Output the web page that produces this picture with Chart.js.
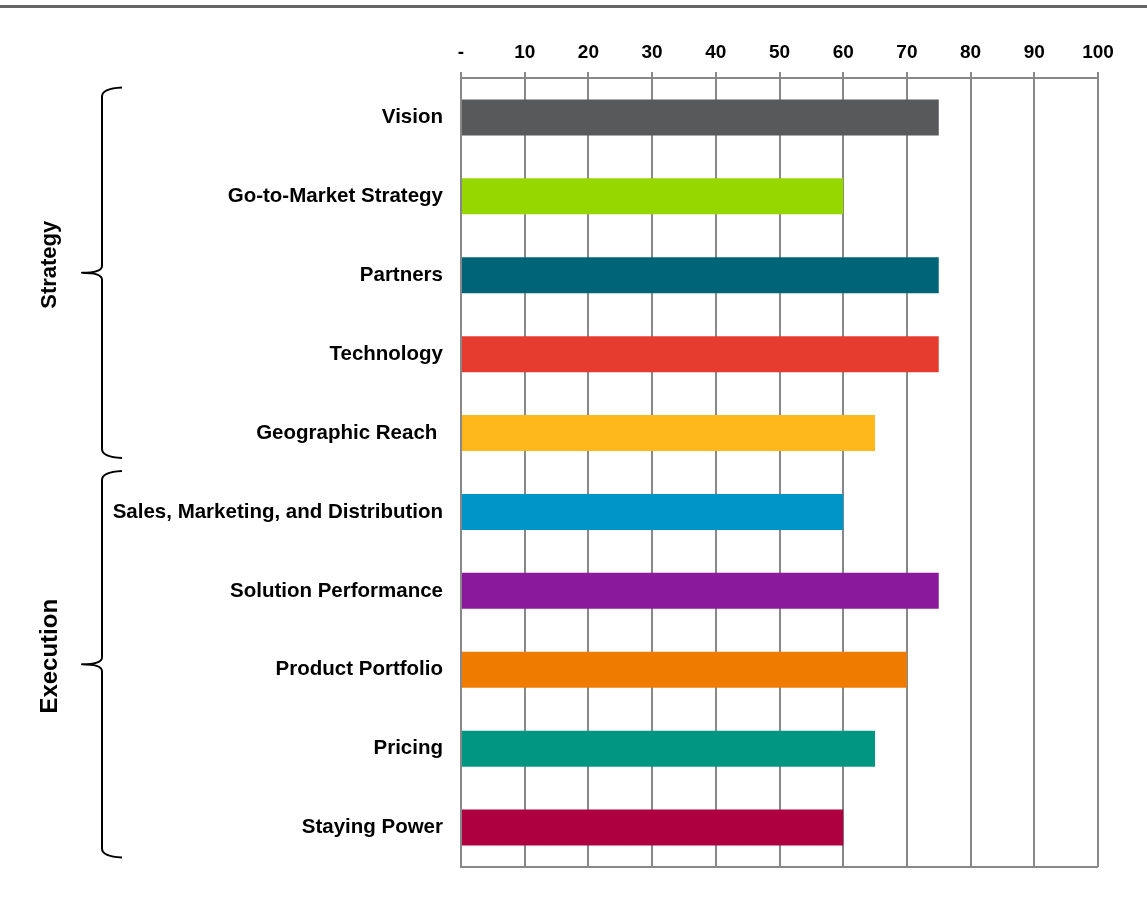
<!DOCTYPE html>
<html>
<head>
<meta charset="utf-8">
<title>Strategy and Execution Scores</title>
<script src="https://cdn.jsdelivr.net/npm/chart.js@4.4.1/dist/chart.umd.min.js"></script>
<style>
  html, body { margin: 0; padding: 0; background: #fff; }
  #wrap { position: relative; width: 1147px; height: 898px; }
  #topline { position: absolute; left: 0; top: 5px; width: 1147px; height: 3px; background: #666; }
</style>
</head>
<body>
<div id="wrap">
  <div id="topline"></div>
  <canvas id="scores"></canvas>
</div>
<script>
// categories and scores, top to bottom
var categories = [
  "Vision",
  "Go-to-Market Strategy",
  "Partners",
  "Technology",
  "Geographic Reach ",
  "Sales, Marketing, and Distribution",
  "Solution Performance",
  "Product Portfolio",
  "Pricing",
  "Staying Power"
];
var scores = [75, 60, 75, 75, 65, 60, 75, 70, 65, 60];
var barColors = [
  "#58595b", "#97d700", "#006479", "#e63c2f", "#ffb81c",
  "#0095c8", "#8a1a9b", "#ef7b00", "#009681", "#ae0040"
];

// bracket groups down the left side (first and last category index)
var groupNames = ["Strategy", "Execution"];
var groupFirst = [0, 5];
var groupLast = [4, 9];

var gridGray = "#888888";

// curly brackets + rotated group labels, plus the bottom edge of the plot
var bracketPlugin = {
  id: "brackets",
  afterDraw: function(chart) {
    var ctx = chart.ctx;
    var y = chart.scales.y;
    var area = chart.chartArea;

    ctx.save();
    ctx.strokeStyle = gridGray;
    ctx.lineWidth = 2;
    ctx.beginPath();
    ctx.moveTo(area.left, area.bottom);
    ctx.lineTo(area.right, area.bottom);
    ctx.stroke();
    ctx.restore();

    var insetTop = [29, 40];
    var insetBot = [24, 29];
    var fontSizes = [22, 24];
    var x = 102, tipX = 122, pointX = 82;

    for (var g = 0; g < groupNames.length; g++) {
      var top = y.getPixelForValue(groupFirst[g]) - insetTop[g];
      var bot = y.getPixelForValue(groupLast[g]) + insetBot[g];
      var mid = (top + bot) / 2;

      ctx.save();
      ctx.strokeStyle = "#000";
      ctx.lineWidth = 2;
      ctx.lineJoin = "round";
      ctx.beginPath();
      ctx.moveTo(tipX, top - 1);
      ctx.quadraticCurveTo(x, top, x, top + 8);
      ctx.lineTo(x, mid - 7);
      ctx.quadraticCurveTo(x, mid, pointX, mid);
      ctx.quadraticCurveTo(x, mid, x, mid + 7);
      ctx.lineTo(x, bot - 8);
      ctx.quadraticCurveTo(x, bot, tipX, bot + 1);
      ctx.stroke();

      ctx.translate(50, mid - 8);
      ctx.rotate(-Math.PI / 2);
      ctx.fillStyle = "#000";
      ctx.font = "bold " + fontSizes[g] + "px 'Liberation Sans', Arial, sans-serif";
      ctx.textAlign = "center";
      ctx.textBaseline = "middle";
      ctx.fillText(groupNames[g], 0, 0);
      ctx.restore();
    }
  }
};

new Chart(document.getElementById("scores"), {
  type: "bar",
  data: {
    labels: categories,
    datasets: [{
      data: scores,
      backgroundColor: barColors,
      borderWidth: 0,
      categoryPercentage: 1,
      barPercentage: 0.456
    }]
  },
  options: {
    indexAxis: "y",
    responsive: true,
    maintainAspectRatio: false,
    animation: false,
    layout: { padding: { top: 0, left: 0, right: 49, bottom: 31 } },
    plugins: {
      legend: { display: false },
      tooltip: { enabled: false }
    },
    scales: {
      x: {
        position: "top",
        min: 0,
        max: 100,
        afterFit: function(scale) { scale.height = 78; },
        ticks: {
          stepSize: 10,
          padding: 8,
          color: "#000",
          font: { family: "'Liberation Sans', Arial, sans-serif", size: 19, weight: "bold" },
          callback: function(v) { return v === 0 ? "-" : v; }
        },
        grid: { color: gridGray, lineWidth: 2, tickLength: 6 },
        border: { color: gridGray, width: 2 }
      },
      y: {
        afterFit: function(scale) { scale.width = 461; },
        ticks: {
          padding: 10,
          color: "#000",
          font: { family: "'Liberation Sans', Arial, sans-serif", size: 20.5, weight: "bold" }
        },
        grid: { display: false },
        border: { display: true, color: gridGray, width: 2 }
      }
    }
  },
  plugins: [bracketPlugin]
});
</script>
</body>
</html>
